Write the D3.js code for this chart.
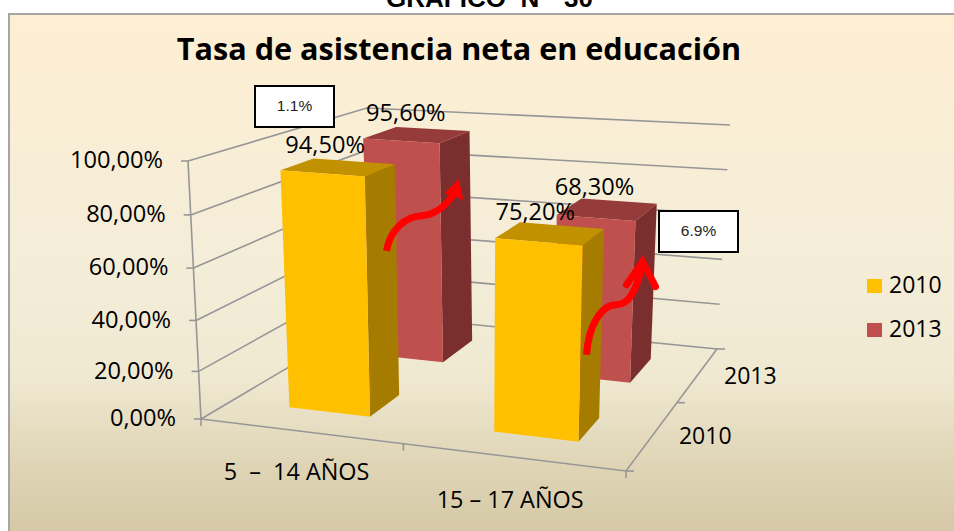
<!DOCTYPE html>
<html><head><meta charset="utf-8">
<script src="https://cdn.jsdelivr.net/npm/d3@7"></script>
<style>html,body{margin:0;padding:0;background:#fff}svg{display:block}text{fill:#000;white-space:pre}</style>
</head><body><svg id="c" width="954" height="531"></svg>
<script>
const header = "GRÁFICO  N°  30";
const title = "Tasa de asistencia neta en educación";
const categories = ["5  –  14 AÑOS", "15 – 17 AÑOS"];
const series = ["2010", "2013"];
const values2010 = [94.5, 75.2];
const values2013 = [95.6, 68.3];
const valueLabels2010 = ["94,50%", "75,20%"];
const valueLabels2013 = ["95,60%", "68,30%"];
const yTicks = [0, 20, 40, 60, 80, 100];
const yTickLabels = ["0,00%", "20,00%", "40,00%", "60,00%", "80,00%", "100,00%"];
const changeLabels = ["1.1%", "6.9%"];

const FONT = "'Open Sans'";
const svg = d3.select("#c");

const colors = {
  "2010": {front:"#FFC000", side:"#A67C00", top:"#C29100"},
  "2013": {front:"#C0504D", side:"#7B2E2E", top:"#953B39"}
};

const defs = svg.append("defs");
const g = defs.append("linearGradient").attr("id","bg").attr("x1",0).attr("x2",0).attr("y1",0).attr("y2",1);
[[0,"#FEEFD3"],[.45,"#F4EDD8"],[.68,"#F0E9D2"],[.85,"#DFD5B6"],[1,"#D3C6A3"]]
  .forEach(([o,c])=>g.append("stop").attr("offset",o).attr("stop-color",c));
svg.append("rect").attr("x",9).attr("y",14).attr("width",960).attr("height",530)
  .attr("fill","url(#bg)").attr("stroke","#a6a6a6").attr("stroke-width",2);

svg.append("text").attr("x",489.5).attr("y",7).attr("text-anchor","middle")
  .style("font",'bold 26px "Liberation Sans"').text(header);
svg.append("text").attr("x",459).attr("y",60).attr("text-anchor","middle")
  .style("font",`bold 30.6px ${FONT}`).text(title);

// Box corners of the 3D plot on screen (layout of the perspective view)
const floorFL=[201,419], floorFR=[626,471], floorBL=[377,315], floorBR=[717,349];
const topFL=[188,161], topFR=[634,195], topBL=[367,108], topBR=[730,125];
const lerp=(a,b,t)=>[a[0]+(b[0]-a[0])*t,a[1]+(b[1]-a[1])*t];
const xS=d3.scaleBand().domain(categories).range([0,1]).paddingInner(.6).paddingOuter(.3);
const zS=d3.scaleBand().domain(series).range([.03,1.02]).paddingInner(.6).paddingOuter(.3);
const yS=d3.scaleLinear().domain([0,100]).range([0,1]);
const yFront=d3.scalePow().exponent(1.05).domain([0,1]).range([0,1]);
const xPersp=d3.scalePow().exponent(1.04).domain([0,1]).range([0,1]);
function project(u0,v,w){
  const u=xPersp(Math.max(u0,0));
  const vv=w*v+(1-w)*yFront(v);
  const f=lerp(lerp(floorFL,floorFR,u),lerp(topFL,topFR,u),vv);
  const b=lerp(lerp(floorBL,floorBR,u),lerp(topBL,topBR,u),vv);
  return lerp(f,b,w);
}
const line=d3.line();
const GRID="#969696";
const walls=svg.append("g").attr("fill","none").attr("stroke",GRID).attr("stroke-width",1.6);
walls.selectAll("path.grid").data(yTicks).join("path").attr("class","grid")
  .attr("d",d=>{const v=yS(d);return line([project(0,v,0),project(0,v,1),project(1,v,1)]);});
// y axis
walls.append("path").attr("d",line([project(0,0,0),project(0,1,0)]));
walls.selectAll("path.yt").data(yTicks).join("path").attr("class","yt")
  .attr("d",d=>{const p=project(0,yS(d),0);return line([[p[0]-7,p[1]],p]);});
// floor edges
walls.append("path").attr("d",line([project(0,0,0),project(1,0,0),project(1,0,1)]));
walls.selectAll("path.xt").data([0,.49,1]).join("path").attr("class","xt")
  .attr("d",d=>{const p=project(d,0,0);return line([p,[p[0],p[1]+7]]);});
walls.selectAll("path.zt").data([0,.56,1]).join("path").attr("class","zt")
  .attr("d",d=>{const p=project(1,0,d);return line([p,[p[0]+8,p[1]]]);});

svg.append("g").selectAll("text").data(yTicks).join("text")
  .attr("x",d=>project(0,yS(d),0)[0]-25).attr("y",d=>project(0,yS(d),0)[1]+1)
  .attr("text-anchor","end").attr("dominant-baseline","middle")
  .style("font",`23.6px ${FONT}`).text((d,i)=>yTickLabels[i]);

// Bars, back series first
const bars=[];
series.slice().reverse().forEach(s=>{
  const vals=s==="2010"?values2010:values2013;
  categories.forEach((c,i)=>bars.push({s,c,i,value:vals[i],
    label:(s==="2010"?valueLabels2010:valueLabels2013)[i]}));
});
const poly=pts=>line(pts)+"Z";
const barG=svg.append("g").selectAll("g").data(bars).join("g");
barG.each(function(d){
  const u0=xS(d.c),u1=u0+xS.bandwidth(),w0=zS(d.s),w1=w0+zS.bandwidth(),v=yS(d.value);
  const c=colors[d.s],sel=d3.select(this);
  sel.append("path").attr("fill",c.side)
    .attr("d",poly([project(u1,0,w0),project(u1,0,w1),project(u1,v,w1),project(u1,v,w0)]));
  sel.append("path").attr("fill",c.top)
    .attr("d",poly([project(u0,v,w0),project(u1,v,w0),project(u1,v,w1),project(u0,v,w1)]));
  sel.append("path").attr("fill",c.front)
    .attr("d",poly([project(u0,0,w0),project(u1,0,w0),project(u1,v,w0),project(u0,v,w0)]));
});

// Data labels
const topMid=d=>project(xS(d.c)+xS.bandwidth()/2,yS(d.value),zS(d.s)+zS.bandwidth()/2);
const labelDx={"2010":[-13,-15],"2013":[-11,-13]};
svg.append("g").selectAll("text").data(bars).join("text")
  .attr("x",d=>topMid(d)[0]+labelDx[d.s][d.i])
  .attr("y",d=>topMid(d)[1]-20.5)
  .attr("text-anchor","middle").attr("dominant-baseline","middle")
  .style("font",`23.6px ${FONT}`).text(d=>d.label);

// Axis category / series labels
const catOff=[[-5,42],[-6,44]];
svg.append("g").selectAll("text").data(categories).join("text")
  .attr("x",(d,i)=>project(xS(d)+xS.bandwidth()/2,0,0)[0]+catOff[i][0])
  .attr("y",(d,i)=>project(xS(d)+xS.bandwidth()/2,0,0)[1]+catOff[i][1])
  .attr("text-anchor","middle").attr("dominant-baseline","middle")
  .style("font",`23.4px ${FONT}`).text(d=>d);
svg.append("g").selectAll("text").data(series).join("text")
  .attr("x",d=>project(1,0,zS(d)+zS.bandwidth()/2)[0]+54)
  .attr("y",d=>project(1,0,zS(d)+zS.bandwidth()/2)[1]+1)
  .attr("text-anchor","middle").attr("dominant-baseline","middle")
  .style("font",`23px ${FONT}`).text(d=>d);

// Legend
const leg=svg.append("g").selectAll("g").data(series).join("g")
  .attr("transform",(d,i)=>`translate(867,${279+i*44})`);
leg.append("rect").attr("width",15).attr("height",14).attr("fill",d=>colors[d].front);
leg.append("text").attr("x",22).attr("y",7.5).attr("dominant-baseline","middle")
  .style("font",`23px ${FONT}`).text(d=>d);

// Change boxes
const boxes=svg.append("g").selectAll("g").data(changeLabels).join("g")
  .attr("transform",(d,i)=>`translate(${i?659:255},${i?211:86})`);
boxes.append("rect").attr("width",79).attr("height",41).attr("fill","#fff").attr("stroke","#000").attr("stroke-width",2);
boxes.append("text").attr("x",39.5).attr("y",21).attr("text-anchor","middle").attr("dominant-baseline","middle")
  .style("font",'15.5px "Liberation Sans"').style("fill","#222").text(d=>d);

// Red arrows anchored to the front bars' lower right corner
const arrowShape=[
 {dx:-2.5, body:"M19,-166 C23,-188 38,-200 54,-201 C68,-202 80,-212 88,-226", head:[[78,-224],[91,-237],[95,-218]], chev:false},
 {dx:-2, body:"M10,-87 C12,-115 24,-137 40,-137 C52,-137 60,-150 66,-178", head:[[50,-157],[66,-180],[79,-155]], chev:true}
];
const yellowBars=categories.map(c=>project(xS(c)+xS.bandwidth(),0,zS("2010")));
const arrows=svg.append("g").selectAll("g").data(arrowShape).join("g")
  .attr("transform",(d,i)=>`translate(${yellowBars[i][0]+d.dx},${yellowBars[i][1]})`);
arrows.append("path").attr("d",d=>d.body).attr("fill","none").attr("stroke","#FF0000").attr("stroke-width",7);
arrows.append("path").attr("d",d=>d3.line()(d.head)+(d.chev?"":"Z"))
  .attr("fill",d=>d.chev?"none":"#FF0000").attr("stroke","#FF0000")
  .attr("stroke-width",d=>d.chev?7:1).attr("stroke-linecap","round").attr("stroke-linejoin","miter");
</script></body></html>
